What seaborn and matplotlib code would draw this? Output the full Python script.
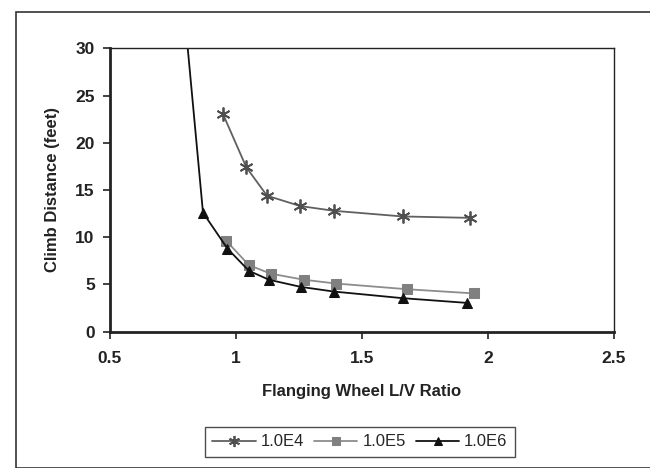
import matplotlib
matplotlib.use("Agg")
import matplotlib.pyplot as plt
import seaborn as sns
import pandas as pd
from matplotlib.patches import Rectangle

x_e4 = [0.949, 1.041, 1.123, 1.255, 1.388, 1.661, 1.928]
y_e4 = [23.0, 17.4, 14.4, 13.3, 12.8, 12.2, 12.05]
x_e5 = [0.962, 1.051, 1.137, 1.269, 1.397, 1.677, 1.945]
y_e5 = [9.6, 7.05, 6.15, 5.5, 5.1, 4.5, 4.05]
x_e6 = [0.805, 0.869, 0.966, 1.051, 1.131, 1.256, 1.388, 1.661, 1.916]
y_e6 = [31.0, 12.6, 8.8, 6.45, 5.5, 4.75, 4.25, 3.55, 3.05]
series_names = ["1.0E4", "1.0E5", "1.0E6"]

sns.set_theme(style="white")
plt.rcParams['font.family'] = ['Liberation Sans', 'DejaVu Sans']

fig = plt.figure(figsize=(6.5, 4.68), dpi=100)
ax = fig.add_axes([110/650, 1-331.7/468, (614-110)/650, (331.7-48.3)/468])

df = pd.concat([
    pd.DataFrame({"x": x_e4, "y": y_e4, "s": series_names[0]}),
    pd.DataFrame({"x": x_e5, "y": y_e5, "s": series_names[1]}),
    pd.DataFrame({"x": x_e6, "y": y_e6, "s": series_names[2]}),
])

styles = {
    "1.0E4": dict(color="#606060", marker=(6, 2, 0), markersize=10, mec="#505050", mew=1.3, lw=1.3),
    "1.0E5": dict(color="#8c8c8c", marker="s", markersize=7, mec="#808080", mfc="#808080", lw=1.3),
    "1.0E6": dict(color="#111111", marker="^", markersize=7.5, mec="#111111", mfc="#111111", lw=1.3),
}
for name in series_names:
    sub = df[df["s"] == name]
    sns.lineplot(data=sub, x="x", y="y", ax=ax, sort=False, label=name, **styles[name])

ax.set_xlim(0.5, 2.5)
ax.set_ylim(0, 30)
ax.set_xticks([0.5, 1, 1.5, 2, 2.5])
ax.set_xticklabels(["0.5", "1", "1.5", "2", "2.5"])
ax.set_yticks([0, 5, 10, 15, 20, 25, 30])
for lab in ax.get_xticklabels() + ax.get_yticklabels():
    lab.set_fontweight("bold")
    lab.set_fontsize(12.5)
    lab.set_color("#222222")
ax.tick_params(axis="both", direction="out", length=5, width=1.2, color="#222222", bottom=True, left=True)
ax.tick_params(axis="x", pad=9)
ax.tick_params(axis="y", pad=6)

for side in ["left", "bottom"]:
    ax.spines[side].set_linewidth(2.0)
    ax.spines[side].set_color("#222222")
for side in ["top", "right"]:
    ax.spines[side].set_linewidth(1.0)
    ax.spines[side].set_color("#222222")

ax.set_xlabel("Flanging Wheel L/V Ratio", fontsize=12, fontweight="bold", color="#222222", labelpad=13)
ax.set_ylabel("Climb Distance (feet)", fontsize=12, fontweight="bold", color="#222222", labelpad=11)

leg = ax.legend(loc="center", bbox_to_anchor=(360/650, 1-442/468), bbox_transform=fig.transFigure,
                ncol=3, frameon=True, fancybox=False, fontsize=12, handlelength=2.6,
                columnspacing=0.6, handletextpad=0.3, borderpad=0.45, markerscale=0.8)
leg.get_frame().set_edgecolor("#222222")
leg.get_frame().set_linewidth(1.0)

fig.patches.append(Rectangle((16/650, 0), 1.0, 1-12/468, transform=fig.transFigure, fill=False,
                             edgecolor="#333333", linewidth=1.2, clip_on=False))

fig.savefig("out.png", dpi=100)
